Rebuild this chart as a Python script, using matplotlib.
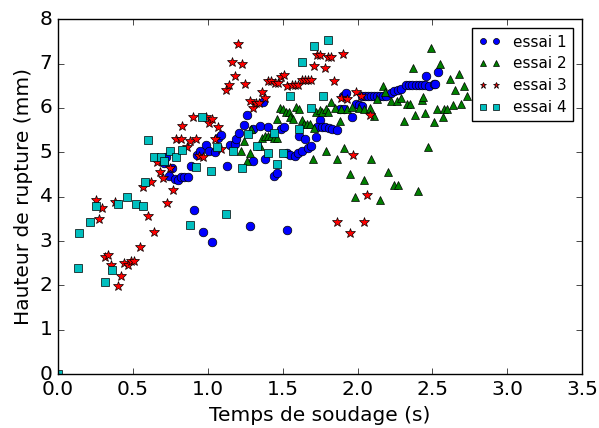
import matplotlib
matplotlib.use("Agg")
import matplotlib.pyplot as plt

# essai 1
x1 = [0.72, 0.71, 0.76, 0.74, 0.78, 0.80, 0.82, 0.84, 0.87, 0.89, 0.93, 0.95, 0.99, 1.01,
      1.05, 1.07, 1.09, 0.91, 0.97, 1.03, 1.13, 1.15, 1.18, 1.19, 1.21, 1.24, 1.26, 1.30,
      1.28, 1.30, 1.35, 1.37, 1.38, 1.40, 1.44, 1.46, 1.49, 1.51, 1.53, 1.53, 1.55, 1.58,
      1.60, 1.63, 1.67, 1.69, 1.61, 1.65, 1.72, 1.75, 1.73, 1.76, 1.78, 1.81, 1.83, 1.86,
      1.88, 1.91, 1.90, 1.92, 1.96, 1.99, 2.01, 2.03, 2.03, 2.05, 2.07, 2.09, 2.11, 2.13,
      2.15, 2.17, 2.19, 2.22, 2.24, 2.27, 2.29, 2.32, 2.34, 2.36, 2.39, 2.41, 2.43, 2.45,
      2.48, 2.51, 2.52, 2.46, 2.54]
y1 = [4.90, 4.76, 4.64, 4.46, 4.39, 4.37, 4.45, 4.45, 4.45, 4.69, 4.95, 5.03, 5.17, 5.04,
      5.00, 5.32, 5.40, 3.71, 3.21, 2.97, 4.69, 5.17, 5.19, 5.29, 5.43, 5.61, 5.84, 4.80,
      3.33, 5.52, 5.60, 6.13, 4.85, 5.58, 4.46, 4.54, 5.52, 5.58, 3.25, 4.98, 4.94, 4.92,
      4.99, 5.03, 5.09, 5.14, 5.36, 5.29, 5.35, 5.73, 5.57, 5.57, 5.57, 5.55, 5.52, 5.51,
      5.98, 5.97, 6.28, 6.33, 5.80, 6.10, 6.07, 6.05, 6.28, 6.28, 6.28, 6.28, 6.28, 6.28,
      6.28, 6.28, 6.28, 6.34, 6.38, 6.41, 6.43, 6.51, 6.51, 6.51, 6.51, 6.51, 6.51, 6.51,
      6.49, 6.53, 6.55, 6.72, 6.82]

# essai 2
x2 = [1.22, 1.24, 1.26, 1.28, 1.29, 1.35, 1.36, 1.38, 1.40, 1.42, 1.44, 1.46, 1.46, 1.48,
      1.50, 1.52, 1.54, 1.55, 1.57, 1.59, 1.61, 1.63, 1.64, 1.66, 1.68, 1.70, 1.71, 1.72,
      1.75, 1.76, 1.79, 1.79, 1.80, 1.82, 1.85, 1.86, 1.88, 1.89, 1.91, 1.93, 1.95, 1.96,
      1.98, 2.01, 2.04, 2.04, 2.08, 2.09, 2.11, 2.13, 2.15, 2.17, 2.18, 2.20, 2.22, 2.24,
      2.26, 2.27, 2.29, 2.31, 2.33, 2.35, 2.37, 2.38, 2.40, 2.43, 2.44, 2.45, 2.47, 2.49,
      2.51, 2.53, 2.55, 2.57, 2.58, 2.60, 2.62, 2.64, 2.65, 2.68, 2.69, 2.71, 2.73]
y2 = [5.03, 5.26, 4.80, 4.99, 5.53, 5.14, 5.33, 5.37, 5.37, 5.37, 5.33, 5.33, 5.75, 6.00,
      5.97, 5.90, 5.90, 5.79, 5.76, 6.03, 5.97, 5.73, 5.64, 5.64, 5.64, 4.84, 5.54, 5.90,
      5.95, 5.90, 5.03, 5.97, 5.90, 6.14, 6.01, 4.86, 5.70, 5.97, 5.09, 5.97, 4.50, 6.03,
      4.00, 6.01, 5.97, 4.37, 6.00, 4.86, 5.82, 6.21, 3.92, 6.49, 6.37, 4.55, 6.15, 4.27,
      6.15, 4.27, 6.23, 5.71, 6.09, 6.09, 6.90, 5.84, 4.13, 6.19, 6.24, 5.89, 5.11, 7.35,
      5.69, 5.97, 6.98, 5.80, 5.97, 5.97, 6.66, 6.06, 6.40, 6.76, 6.09, 6.50, 6.27]

# essai 3
x3 = [0.25, 0.27, 0.29, 0.31, 0.33, 0.35, 0.38, 0.40, 0.42, 0.44, 0.47, 0.49, 0.51, 0.55,
      0.57, 0.60, 0.62, 0.64, 0.66, 0.68, 0.70, 0.73, 0.75, 0.77, 0.79, 0.82, 0.83, 0.86,
      0.88, 0.90, 0.92, 0.94, 0.97, 0.99, 1.01, 1.03, 1.05, 1.07, 1.09, 1.12, 1.14, 1.16,
      1.18, 1.20, 1.23, 1.25, 1.28, 1.30, 1.32, 1.34, 1.36, 1.38, 1.40, 1.42, 1.45, 1.47,
      1.49, 1.51, 1.53, 1.56, 1.58, 1.60, 1.63, 1.65, 1.67, 1.69, 1.71, 1.73, 1.75, 1.78,
      1.80, 1.82, 1.84, 1.86, 1.89, 1.90, 1.93, 1.95, 1.97, 1.99, 2.02, 2.04, 2.06, 2.08]
y3 = [3.92, 3.50, 3.75, 2.63, 2.69, 2.46, 3.87, 1.99, 2.22, 2.51, 2.46, 2.54, 2.54, 2.86,
      4.22, 3.56, 4.33, 3.21, 4.78, 4.55, 4.41, 3.86, 4.64, 4.15, 5.29, 5.29, 5.59, 5.11,
      5.25, 5.79, 5.29, 4.92, 4.89, 5.79, 5.67, 5.75, 5.29, 5.58, 5.07, 6.40, 6.51, 7.04,
      6.72, 7.44, 6.99, 6.55, 6.15, 6.01, 6.12, 6.11, 6.37, 6.23, 6.60, 6.60, 6.57, 6.57,
      6.69, 6.74, 6.50, 6.52, 6.52, 6.52, 6.63, 6.63, 6.63, 6.63, 6.94, 7.19, 7.19, 6.89,
      7.16, 7.16, 6.60, 3.42, 6.23, 7.22, 6.20, 3.17, 4.95, 6.37, 6.27, 3.44, 4.03, 5.84]

# essai 4
x4 = [0.00, 0.13, 0.14, 0.21, 0.25, 0.31, 0.36, 0.40, 0.46, 0.52, 0.57, 0.58, 0.60, 0.64,
      0.69, 0.71, 0.75, 0.79, 0.83, 0.88, 0.92, 0.96, 1.02, 1.06, 1.12, 1.17, 1.23, 1.27,
      1.33, 1.40, 1.44, 1.46, 1.50, 1.55, 1.61, 1.63, 1.69, 1.71, 1.77, 1.80]
y4 = [0.00, 2.40, 3.17, 3.43, 3.78, 2.07, 2.35, 3.83, 4.00, 3.83, 3.78, 4.32, 5.28, 4.89,
      4.89, 4.81, 5.04, 4.89, 5.06, 3.36, 4.68, 5.79, 4.58, 5.12, 3.61, 5.03, 4.64, 5.42,
      5.15, 4.98, 5.44, 4.73, 4.99, 6.27, 5.52, 7.04, 6.01, 7.40, 6.27, 7.53]

labels = ["essai 1", "essai 2", "essai 3", "essai 4"]

plt.style.use("classic")
plt.rcParams.update({
    "axes.labelsize": 14.5,
    "xtick.labelsize": 14.5,
    "ytick.labelsize": 14.5,
})
fig = plt.figure(figsize=(5.99, 4.28), dpi=100)
ax = fig.add_axes([0.097, 0.126, 0.875, 0.829])

ax.plot(x1, y1, "bo", markersize=6.2, label=labels[0])
ax.plot(x2, y2, "g^", markersize=6.2, label=labels[1])
ax.plot(x3, y3, "r*", markersize=7.2, label=labels[2])
ax.plot(x4, y4, "cs", markersize=6.2, label=labels[3])

ax.set_xlim(0, 3.5)
ax.set_ylim(0, 8)
ax.set_xlabel("Temps de soudage (s)")
ax.set_ylabel("Hauteur de rupture (mm)")
ax.legend(loc="upper right", numpoints=2, markerscale=0.7, fontsize=11,
          handlelength=1.5, labelspacing=0.45, borderaxespad=0.6)

fig.savefig("out.png", dpi=100)
